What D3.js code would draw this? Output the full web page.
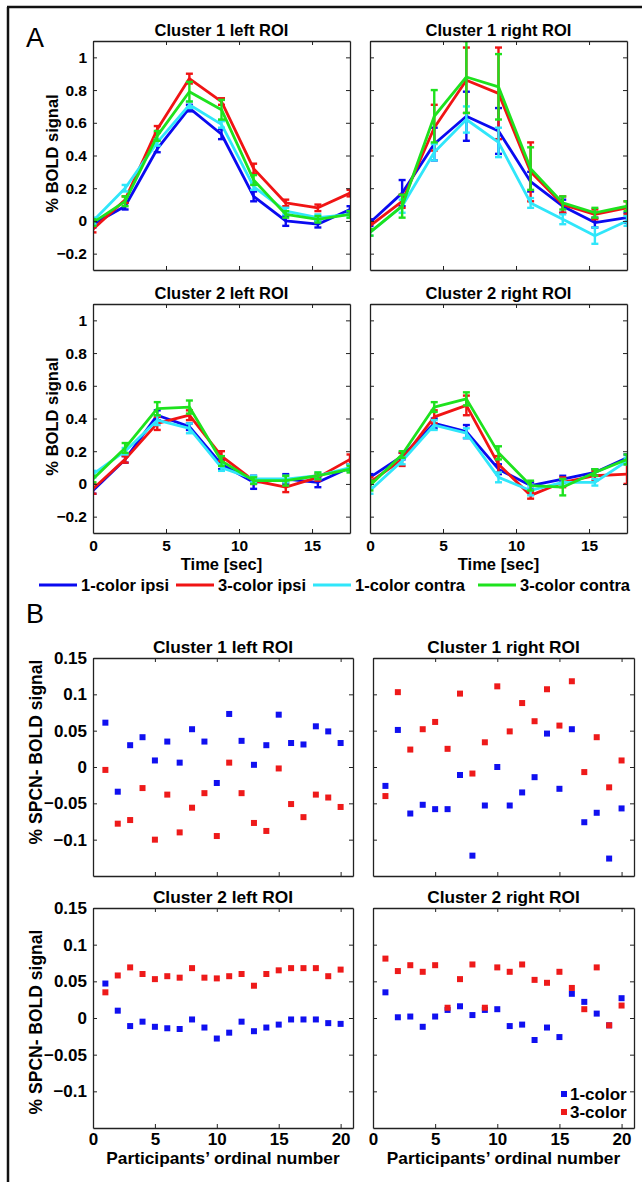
<!DOCTYPE html>
<html>
<head>
<meta charset="utf-8">
<script src="https://cdn.jsdelivr.net/npm/d3@7"></script>
<style>
  body { margin: 0; background: #fff; }
  svg { display: block; }
  text { font-family: "Liberation Sans", Arial, Helvetica, sans-serif; font-weight: bold; fill: #000; }
</style>
</head>
<body>
<svg id="fig" width="642" height="1182"></svg>
<script>
// ---- data: panel A (time courses, % BOLD signal) ----
const timeSec = [0, 2.2, 4.4, 6.6, 8.8, 11, 13.2, 15.4, 17.6];
const conditionNames = ["1-color ipsi", "3-color ipsi", "1-color contra", "3-color contra"];
const boldTicks = [-0.2, 0, 0.2, 0.4, 0.6, 0.8, 1];
const timeTicks = [0, 5, 10, 15];

// rows: 1-color ipsi, 3-color ipsi, 1-color contra, 3-color contra
const c1LeftMean = [
  [-0.02, 0.09, 0.44, 0.69, 0.53, 0.15, 0.00, -0.02, 0.07],
  [-0.05, 0.13, 0.56, 0.87, 0.73, 0.32, 0.11, 0.08, 0.17],
  [0.00, 0.20, 0.48, 0.71, 0.59, 0.21, 0.06, 0.02, 0.04],
  [-0.01, 0.12, 0.52, 0.79, 0.68, 0.25, 0.04, 0.01, 0.04]
];
const c1LeftSem = [
  [0.02, 0.02, 0.02, 0.02, 0.03, 0.03, 0.03, 0.02, 0.02],
  [0.02, 0.02, 0.02, 0.03, 0.02, 0.03, 0.02, 0.02, 0.02],
  [0.02, 0.02, 0.02, 0.02, 0.02, 0.02, 0.02, 0.02, 0.02],
  [0.02, 0.03, 0.03, 0.06, 0.06, 0.03, 0.02, 0.02, 0.02]
];
const c1RightMean = [
  [-0.01, 0.17, 0.47, 0.64, 0.55, 0.24, 0.09, -0.01, 0.02],
  [-0.03, 0.12, 0.57, 0.86, 0.78, 0.30, 0.10, 0.04, 0.08],
  [-0.07, 0.09, 0.42, 0.62, 0.48, 0.11, 0.01, -0.09, 0.00],
  [-0.07, 0.09, 0.64, 0.88, 0.82, 0.32, 0.11, 0.05, 0.09]
];
const c1RightSem = [
  [0.02, 0.08, 0.10, 0.15, 0.14, 0.06, 0.04, 0.03, 0.03],
  [0.02, 0.04, 0.14, 0.20, 0.28, 0.18, 0.05, 0.03, 0.04],
  [0.02, 0.04, 0.05, 0.08, 0.09, 0.03, 0.03, 0.05, 0.03],
  [0.02, 0.07, 0.16, 0.22, 0.20, 0.13, 0.04, 0.03, 0.03]
];
const c2LeftMean = [
  [-0.04, 0.15, 0.42, 0.35, 0.12, 0.01, 0.03, 0.01, 0.10],
  [-0.03, 0.15, 0.37, 0.42, 0.17, 0.02, -0.02, 0.04, 0.15],
  [0.06, 0.20, 0.39, 0.34, 0.10, 0.03, 0.03, 0.05, 0.10],
  [0.03, 0.22, 0.46, 0.47, 0.14, 0.02, 0.02, 0.05, 0.09]
];
const c2LeftSem = [
  [0.02, 0.02, 0.03, 0.02, 0.03, 0.04, 0.03, 0.03, 0.02],
  [0.03, 0.02, 0.04, 0.03, 0.03, 0.02, 0.03, 0.02, 0.03],
  [0.02, 0.02, 0.03, 0.03, 0.02, 0.02, 0.02, 0.02, 0.02],
  [0.02, 0.03, 0.04, 0.04, 0.03, 0.02, 0.03, 0.02, 0.02]
];
const c2RightMean = [
  [0.04, 0.17, 0.37, 0.32, 0.09, -0.01, 0.03, 0.07, 0.16],
  [0.01, 0.15, 0.41, 0.48, 0.12, -0.07, 0.01, 0.05, 0.06],
  [-0.04, 0.14, 0.36, 0.31, 0.04, -0.04, 0.01, 0.01, 0.14],
  [-0.01, 0.18, 0.47, 0.52, 0.19, -0.01, -0.02, 0.07, 0.15]
];
const c2RightSem = [
  [0.02, 0.02, 0.03, 0.04, 0.03, 0.02, 0.02, 0.02, 0.02],
  [0.03, 0.04, 0.04, 0.06, 0.05, 0.02, 0.03, 0.03, 0.06],
  [0.02, 0.02, 0.03, 0.03, 0.03, 0.03, 0.02, 0.02, 0.02],
  [0.03, 0.02, 0.03, 0.04, 0.04, 0.03, 0.05, 0.02, 0.03]
];

// ---- data: panel B (per participant SPCN-BOLD) ----
const participants = [1, 2, 3, 4, 5, 6, 7, 8, 9, 10, 11, 12, 13, 14, 15, 16, 17, 18, 19, 20];
const groupNames = ["1-color", "3-color"];
const spcnTicks = [-0.1, -0.05, 0, 0.05, 0.1, 0.15];
const participantTicks = [0, 5, 10, 15, 20];

const c1LeftOne = [0.061, -0.034, 0.030, 0.041, 0.009, 0.035, 0.006, 0.052, 0.035, -0.022,
                   0.073, 0.036, 0.003, 0.030, 0.072, 0.033, 0.031, 0.056, 0.049, 0.033];
const c1LeftThree = [-0.004, -0.078, -0.073, -0.029, -0.100, -0.038, -0.090, -0.056, -0.036, -0.095,
                     0.006, -0.036, -0.077, -0.088, -0.002, -0.051, -0.069, -0.038, -0.042, -0.055];
const c1RightOne = [-0.026, 0.051, -0.064, -0.052, -0.058, -0.058, -0.011, -0.122, -0.053, 0.000,
                    -0.053, -0.035, -0.014, 0.046, -0.030, 0.052, -0.076, -0.063, -0.126, -0.057];
const c1RightThree = [-0.040, 0.103, 0.024, 0.052, 0.062, 0.025, 0.101, -0.009, 0.034, 0.111,
                      0.049, 0.088, 0.063, 0.107, 0.057, 0.118, -0.007, 0.041, -0.028, 0.009];
const c2LeftOne = [0.047, 0.010, -0.011, -0.005, -0.012, -0.014, -0.015, -0.002, -0.013, -0.028,
                   -0.020, -0.005, -0.018, -0.013, -0.009, -0.002, -0.002, -0.002, -0.007, -0.008];
const c2LeftThree = [0.035, 0.058, 0.069, 0.060, 0.053, 0.057, 0.055, 0.068, 0.055, 0.054,
                     0.057, 0.060, 0.044, 0.060, 0.065, 0.068, 0.068, 0.068, 0.057, 0.066];
const c2RightOne = [0.035, 0.001, 0.002, -0.012, 0.002, 0.011, 0.016, 0.004, 0.011, 0.012,
                    -0.011, -0.009, -0.030, -0.013, -0.026, 0.033, 0.022, 0.006, -0.010, 0.027];
const c2RightThree = [0.081, 0.064, 0.072, 0.063, 0.072, 0.014, 0.053, 0.073, 0.014, 0.069,
                      0.063, 0.073, 0.052, 0.048, 0.063, 0.041, 0.012, 0.069, -0.010, 0.017];

// ---- styles ----
const lineColors = ["#0a0af0", "#f01414", "#30e6fa", "#1ee21e"];
const dotColors = ["#1010f0", "#ee1a1a"];
const fmt = d3.format("~g");

const svg = d3.select("#fig");

// figure frame (top + left edge)
svg.append("line").attr("x1", 7).attr("x2", 642).attr("y1", 7).attr("y2", 7)
  .attr("stroke", "#111").attr("stroke-width", 2.5);
svg.append("line").attr("x1", 8).attr("x2", 8).attr("y1", 7).attr("y2", 1182)
  .attr("stroke", "#111").attr("stroke-width", 2.5);

// draws the matlab style box with inward ticks on all four sides
function drawAxes(g, x, y, xTicks, yTicks, showX, showY, fs, padX) {
  const [x0, x1] = x.range();
  const [y1, y0] = y.range();
  const sides = [
    g.append("g").attr("transform", `translate(0,${y1})`)
      .call(d3.axisBottom(x).tickValues(xTicks).tickSize(-4).tickSizeOuter(0).tickPadding(padX)
        .tickFormat(showX ? fmt : "")),
    g.append("g").attr("transform", `translate(0,${y0})`)
      .call(d3.axisTop(x).tickValues(xTicks).tickSize(-4).tickSizeOuter(0).tickFormat("")),
    g.append("g").attr("transform", `translate(${x0},0)`)
      .call(d3.axisLeft(y).tickValues(yTicks).tickSize(-4).tickSizeOuter(0).tickPadding(6)
        .tickFormat(showY ? fmt : "")),
    g.append("g").attr("transform", `translate(${x1},0)`)
      .call(d3.axisRight(y).tickValues(yTicks).tickSize(-4).tickSizeOuter(0).tickFormat(""))
  ];
  sides.forEach(s => {
    s.attr("font-family", null).attr("font-size", fs);
    s.select(".domain").attr("stroke", "#222").attr("stroke-width", 1.3);
    s.selectAll(".tick line").attr("stroke", "#222").attr("stroke-width", 1);
    s.selectAll(".tick text").attr("fill", "#000");
  });
}

// ---- panel A ----
const colA = [[93, 350], [370, 627]];
const rowA = [[41, 270], [304, 533]];
const panelsA = [
  {title: "Cluster 1 left ROI", mean: c1LeftMean, sem: c1LeftSem, col: 0, row: 0},
  {title: "Cluster 1 right ROI", mean: c1RightMean, sem: c1RightSem, col: 1, row: 0},
  {title: "Cluster 2 left ROI", mean: c2LeftMean, sem: c2LeftSem, col: 0, row: 1},
  {title: "Cluster 2 right ROI", mean: c2RightMean, sem: c2RightSem, col: 1, row: 1}
];

panelsA.forEach((p, i) => {
  const g = svg.append("g");
  const x = d3.scaleLinear().domain([0, 17.6]).range(colA[p.col]);
  const y = d3.scaleLinear().domain([-0.3, 1.1]).range([rowA[p.row][1], rowA[p.row][0]]);
  const clipId = "clipA" + i;
  g.append("clipPath").attr("id", clipId).append("rect")
    .attr("x", x.range()[0]).attr("y", y.range()[1])
    .attr("width", x.range()[1] - x.range()[0]).attr("height", y.range()[0] - y.range()[1]);
  const plot = g.append("g").attr("clip-path", `url(#${clipId})`);

  const line = d3.line().x((d, k) => x(timeSec[k])).y(d => y(d));
  p.mean.forEach((series, c) => {
    const cg = plot.append("g");
    cg.append("path").datum(series).attr("d", line)
      .attr("fill", "none").attr("stroke", lineColors[c]).attr("stroke-width", 2.8)
      .attr("stroke-linejoin", "round");
    const bars = cg.selectAll("g.eb").data(series).join("g").attr("class", "eb");
    bars.append("line")
      .attr("x1", (d, k) => x(timeSec[k])).attr("x2", (d, k) => x(timeSec[k]))
      .attr("y1", (d, k) => y(d - p.sem[c][k])).attr("y2", (d, k) => y(d + p.sem[c][k]))
      .attr("stroke", lineColors[c]).attr("stroke-width", 2.4);
    [-1, 1].forEach(sgn => {
      bars.append("line")
        .attr("x1", (d, k) => x(timeSec[k]) - 3.5).attr("x2", (d, k) => x(timeSec[k]) + 3.5)
        .attr("y1", (d, k) => y(d + sgn * p.sem[c][k])).attr("y2", (d, k) => y(d + sgn * p.sem[c][k]))
        .attr("stroke", lineColors[c]).attr("stroke-width", 2.4);
    });
  });

  drawAxes(g, x, y, timeTicks, boldTicks, p.row === 1, p.col === 0, 15.5, 7);

  g.append("text").attr("x", d3.mean(x.range())).attr("y", y.range()[1] - 5)
    .attr("text-anchor", "middle").attr("font-size", 16.5).text(p.title);
  if (p.col === 0) {
    g.append("text").attr("transform", `translate(58,${d3.mean(y.range()) - 2}) rotate(-90)`)
      .attr("text-anchor", "middle").attr("font-size", 16.5).text("% BOLD signal");
  }
  if (p.row === 1) {
    g.append("text").attr("x", d3.mean(x.range())).attr("y", 570)
      .attr("text-anchor", "middle").attr("font-size", 16.5).text("Time [sec]");
  }
});

svg.append("text").attr("x", 26).attr("y", 47).attr("font-size", 27)
  .style("font-weight", "normal").text("A");

// legend for A
const legendX = [39, 176, 313, 478];
const legA = svg.append("g");
conditionNames.forEach((name, c) => {
  legA.append("line").attr("x1", legendX[c]).attr("x2", legendX[c] + 38)
    .attr("y1", 585).attr("y2", 585).attr("stroke", lineColors[c]).attr("stroke-width", 2.8);
  legA.append("text").attr("x", legendX[c] + 42).attr("y", 591)
    .attr("font-size", 16.5).text(name);
});

// ---- panel B ----
const colB = [[93, 353], [373, 634]];
const rowB = [[658, 876], [908, 1128]];
const panelsB = [
  {title: "Cluster 1 left ROI", one: c1LeftOne, three: c1LeftThree, col: 0, row: 0},
  {title: "Cluster 1 right ROI", one: c1RightOne, three: c1RightThree, col: 1, row: 0},
  {title: "Cluster 2 left ROI", one: c2LeftOne, three: c2LeftThree, col: 0, row: 1},
  {title: "Cluster 2 right ROI", one: c2RightOne, three: c2RightThree, col: 1, row: 1}
];

panelsB.forEach(p => {
  const g = svg.append("g");
  const x = d3.scaleLinear().domain([0, 21]).range(colB[p.col]);
  const y = d3.scaleLinear().domain([-0.15, 0.15]).range([rowB[p.row][1], rowB[p.row][0]]);

  [p.one, p.three].forEach((vals, s) => {
    g.append("g").selectAll("rect").data(vals).join("rect")
      .attr("x", (d, k) => x(participants[k]) - 3).attr("y", d => y(d) - 3)
      .attr("width", 6).attr("height", 6).attr("fill", dotColors[s]);
  });

  drawAxes(g, x, y, participantTicks, spcnTicks, p.row === 1, p.col === 0, 17, 5);

  g.append("text").attr("x", d3.mean(x.range())).attr("y", y.range()[1] - 5)
    .attr("text-anchor", "middle").attr("font-size", 17.3).text(p.title);
  if (p.col === 0) {
    const cy = p.row === 0 ? 752 : d3.mean(y.range()) + 4;
    g.append("text").attr("transform", `translate(42,${cy}) rotate(-90)`)
      .attr("text-anchor", "middle").attr("font-size", 17.5).text("% SPCN- BOLD signal");
  }
  if (p.row === 1) {
    g.append("text").attr("x", d3.mean(x.range())).attr("y", 1164)
      .attr("text-anchor", "middle").attr("font-size", 17.3).text("Participants’ ordinal number");
  }
});

svg.append("text").attr("x", 26).attr("y", 623).attr("font-size", 27)
  .style("font-weight", "normal").text("B");

// legend for B
const legB = svg.append("g");
groupNames.forEach((name, s) => {
  const yy = 1094 + s * 18;
  legB.append("rect").attr("x", 561).attr("y", yy - 3).attr("width", 6).attr("height", 6)
    .attr("fill", dotColors[s]);
  legB.append("text").attr("x", 570).attr("y", yy + 6).attr("font-size", 17).text(name);
});
</script>
</body>
</html>
